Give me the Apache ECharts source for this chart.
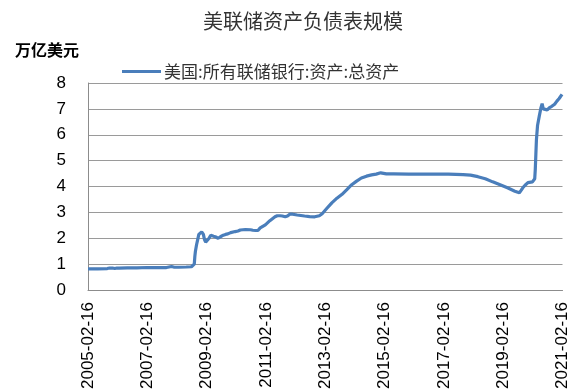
<!DOCTYPE html>
<html>
<head>
<meta charset="utf-8">
<script src="https://cdn.jsdelivr.net/npm/echarts@6/dist/echarts.min.js"></script>
<style>html,body{margin:0;padding:0;background:#fff}#c{width:571px;height:392px}</style>
</head>
<body>
<div id="c"></div>
<script>
const chartTitle = '美联储资产负债表规模';
const unitLabel = '万亿美元';
const seriesName = '美国:所有联储银行:资产:总资产';
const xTickLabels = ['2005-02-16','2007-02-16','2009-02-16','2011-02-16','2013-02-16','2015-02-16','2017-02-16','2019-02-16','2021-02-16'];
const yTicks = [0,1,2,3,4,5,6,7,8];

const dates = [
'2005-02-16','2005-06-15','2005-10-12','2005-11-09','2005-11-23','2005-12-14','2006-01-11','2006-02-08','2006-03-08','2006-06-14','2006-10-11',
'2007-02-14','2007-06-13','2007-10-10','2007-12-12','2007-12-26','2008-01-16','2008-03-12','2008-06-11','2008-08-13','2008-09-03',
'2008-09-17','2008-09-24','2008-10-01','2008-10-15','2008-10-29','2008-11-12','2008-11-26','2008-12-17','2009-01-07','2009-01-21',
'2009-02-04','2009-02-25','2009-03-18','2009-04-08','2009-04-22','2009-05-13','2009-06-10','2009-07-08','2009-08-05','2009-09-09',
'2009-10-07','2009-11-04','2009-12-09','2010-02-03','2010-03-10','2010-04-07','2010-06-09','2010-08-11','2010-09-08','2010-10-13',
'2010-11-10','2010-12-08','2011-02-09','2011-04-06','2011-06-08','2011-07-06','2011-08-10','2011-09-07','2011-10-12','2011-11-09',
'2011-12-07','2012-01-11','2012-03-07','2012-06-06','2012-08-08','2012-10-10','2012-12-05','2013-01-09','2013-03-06','2013-05-08',
'2013-07-10','2013-09-11','2013-11-06','2014-01-08','2014-03-05','2014-05-07','2014-07-09','2014-09-10','2014-11-05','2014-12-31',
'2015-01-14','2015-03-11','2015-06-10','2015-12-09','2016-06-08','2016-11-16','2016-11-23','2016-11-30','2017-04-12','2017-10-11',
'2018-01-10','2018-04-11','2018-07-11','2018-10-10','2019-01-09','2019-04-10','2019-07-10','2019-09-04','2019-09-25','2019-10-16',
'2019-11-13','2019-12-18','2020-02-12','2020-03-11','2020-03-18','2020-03-25','2020-04-01','2020-04-15','2020-05-06','2020-05-27',
'2020-06-10','2020-06-24','2020-07-15','2020-08-12','2020-09-09','2020-10-07','2020-11-11','2020-12-09','2021-01-06','2021-01-27',
'2021-02-10'
];
const totalAssets = [
0.82,0.82,0.83,0.85,0.83,0.85,0.83,0.85,0.85,0.86,0.86,
0.87,0.87,0.87,0.91,0.88,0.88,0.88,0.89,0.90,0.91,
1.00,1.30,1.50,1.75,1.95,2.15,2.22,2.25,2.15,1.95,
1.85,1.90,2.00,2.12,2.15,2.08,2.05,2.00,2.06,2.12,
2.15,2.17,2.22,2.26,2.28,2.32,2.34,2.33,2.31,2.30,
2.30,2.40,2.52,2.68,2.83,2.87,2.87,2.86,2.83,2.86,
2.93,2.93,2.90,2.86,2.84,2.83,2.87,2.95,3.15,3.37,
3.55,3.70,3.87,4.07,4.20,4.33,4.40,4.45,4.48,4.53,
4.49,4.49,4.49,4.48,4.48,4.48,4.44,4.48,4.48,4.46,
4.44,4.38,4.30,4.18,4.07,3.95,3.82,3.76,3.85,3.95,
4.05,4.15,4.18,4.30,4.67,5.25,5.81,6.37,6.72,7.05,
7.20,7.00,6.95,6.96,7.05,7.10,7.18,7.30,7.40,7.45,
7.56
];

const t0 = Date.UTC(2005, 1, 16);
const YEAR_MS = 365.25 * 86400000;
function toYears(s) {
  const p = s.split('-').map(Number);
  return (Date.UTC(p[0], p[1] - 1, p[2]) - t0) / YEAR_MS;
}
const points = dates.map((d, i) => [toYears(d), totalAssets[i]]);

const chart = echarts.init(document.getElementById('c'));
chart.setOption({
  animation: false,
  backgroundColor: '#fff',
  title: [
    { text: chartTitle, left: 298, textAlign: 'center', top: 6,
      textStyle: { fontFamily: 'Noto Sans CJK SC', fontSize: 20, fontWeight: 'normal', color: '#333' } },
    { text: unitLabel, left: 10, top: 37,
      textStyle: { fontFamily: 'Noto Sans CJK SC', fontSize: 16, fontWeight: 'bold', color: '#000' } }
  ],
  legend: {
    left: 117, top: 58, itemWidth: 39, itemHeight: 3, itemGap: 10,
    icon: 'rect',
    textStyle: { fontFamily: 'Noto Sans CJK SC', fontSize: 17, color: '#333', padding: [0, 0, 0, -2] },
    data: [seriesName]
  },
  grid: { left: 88, right: 7, top: 83, bottom: 101, containLabel: false },
  xAxis: {
    type: 'value', min: 0, max: 16, interval: 2,
    axisLine: { show: true, lineStyle: { color: '#8c8c8c', width: 1 } },
    axisTick: { show: false },
    splitLine: { show: false },
    axisLabel: {
      rotate: 90, margin: 12, fontSize: 17, color: '#000', fontFamily: 'Liberation Sans',
      showMaxLabel: true, showMinLabel: true,
      formatter: v => xTickLabels[Math.round(v / 2)] || ''
    }
  },
  yAxis: {
    type: 'value', min: yTicks[0], max: yTicks[yTicks.length - 1], interval: 1,
    axisLine: { show: true, lineStyle: { color: '#8c8c8c', width: 1 } },
    axisTick: { show: false },
    splitLine: { show: true, lineStyle: { color: '#9a9a9a', width: 1 } },
    axisLabel: { margin: 22, fontSize: 17, color: '#000', fontFamily: 'Liberation Sans' }
  },
  series: [{
    name: seriesName, type: 'line', data: points, symbol: 'none', showSymbol: false,
    lineStyle: { color: '#4a7ebb', width: 3.2 }, itemStyle: { color: '#4a7ebb' }
  }]
});
</script>
</body>
</html>
